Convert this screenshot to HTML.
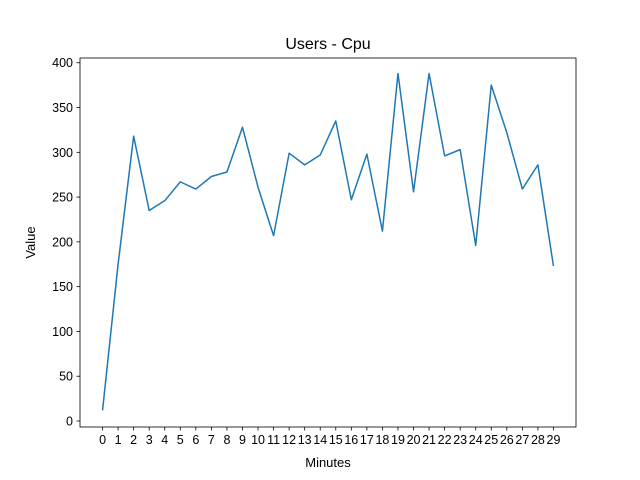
<!DOCTYPE html>
<html><head><meta charset="utf-8"><style>
html,body{margin:0;padding:0;background:#fff;}
svg{display:block;font-family:"Liberation Sans","DejaVu Sans",sans-serif;}
</style></head><body>
<svg id="chart" width="640" height="480" xmlns="http://www.w3.org/2000/svg"></svg>
<script>
const categories = [0,1,2,3,4,5,6,7,8,9,10,11,12,13,14,15,16,17,18,19,20,21,22,23,24,25,26,27,28,29];
const cpuValues = [12,175,318,235,246,267,259,273,278,328,261,207,299,286,297,335,247,298,212,388,256,388,296,303,196,375,322,259,286,173];
const yTicks = [0,50,100,150,200,250,300,350,400];

const svg = document.getElementById('chart');
const NS = 'http://www.w3.org/2000/svg';
const L=80,R=576,T=58,B=427;
const xMin=-1.45,xMax=30.45, yMin=-6.7, yMax=405.3;
function xs(v){return L+(v-xMin)/(xMax-xMin)*(R-L);}
function ys(v){return B-(v-yMin)/(yMax-yMin)*(B-T);}
function mk(tag,attrs,parent){const e=document.createElementNS(NS,tag);for(const k in attrs)e.setAttribute(k,attrs[k]);(parent||svg).appendChild(e);return e;}

const title=mk('text',{x:(L+R)/2,y:49,'text-anchor':'middle','font-size':16,fill:'#000'});
title.textContent='Users - Cpu';



const frame=mk('rect',{x:L,y:T,width:R-L,height:B-T,fill:'none',stroke:'#000','stroke-width':0.8});



categories.forEach(c=>{
  const x=xs(c);
  const t=mk('line',{x1:x,x2:x,y1:B,y2:B+3.5,stroke:'#000','stroke-width':0.8});
  
  
  const lb=mk('text',{x:x,y:B+17,'text-anchor':'middle','font-size':12.5,fill:'#000'});
  lb.textContent=String(c);
  
  
});
yTicks.forEach(v=>{
  const y=ys(v);
  const t=mk('line',{x1:L-3.5,x2:L,y1:y,y2:y,stroke:'#000','stroke-width':0.8});
  
  
  const lb=mk('text',{x:L-7,y:y+4.5,'text-anchor':'end','font-size':12.5,fill:'#000'});
  lb.textContent=String(v);
  
  
});

const xt=mk('text',{x:(L+R)/2,y:467,'text-anchor':'middle','font-size':13,fill:'#000'});
xt.textContent='Minutes';


const yt=mk('text',{x:35,y:(T+B)/2,'text-anchor':'middle','font-size':13,fill:'#000',transform:'rotate(-90 35 '+((T+B)/2)+')'});
yt.textContent='Value';



const pts=categories.map((c,i)=>xs(c).toFixed(2)+','+ys(cpuValues[i]).toFixed(2)).join(' ');
const line=mk('polyline',{points:pts,fill:'none',stroke:'#1f77b4','stroke-width':1.5,'stroke-linejoin':'round'});


</script>
</body></html>
